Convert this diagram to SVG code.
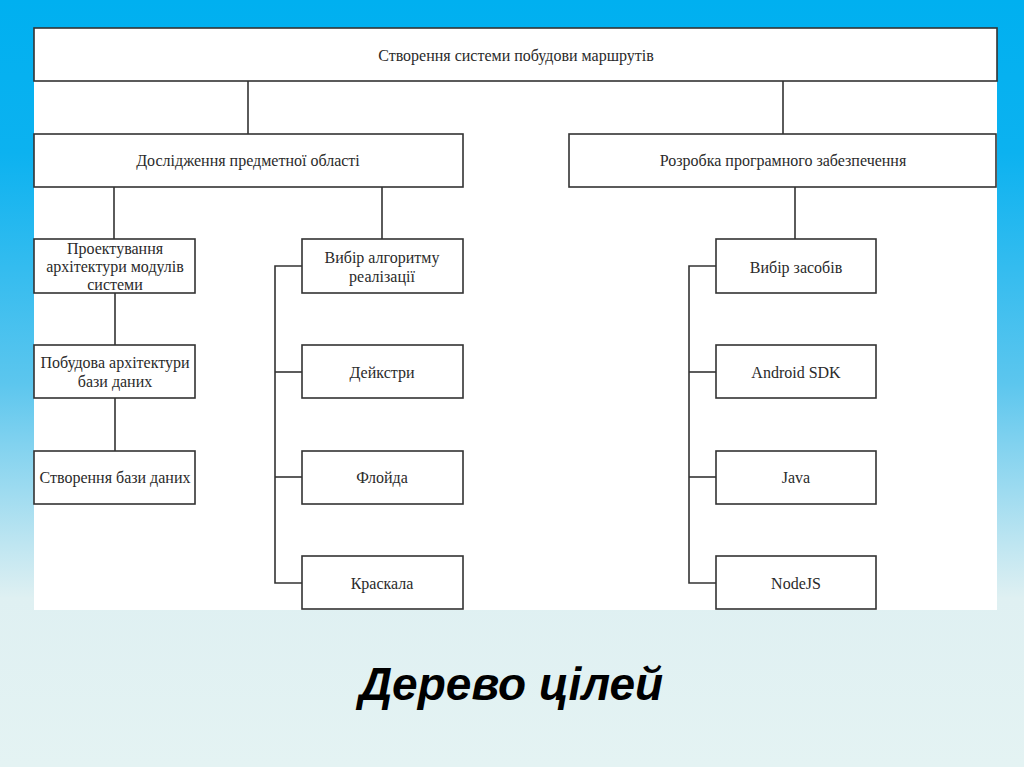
<svg xmlns="http://www.w3.org/2000/svg" width="1024" height="767" viewBox="0 0 1024 767">
<defs>
<linearGradient id="bg" x1="0" y1="0" x2="0" y2="1">
<stop offset="0" stop-color="#00b0f0"/>
<stop offset="0.2" stop-color="#0cb2f0"/>
<stop offset="0.5" stop-color="#5cc6ee"/>
<stop offset="0.78" stop-color="#dff0f2"/>
<stop offset="1" stop-color="#e4f3f3"/>
</linearGradient>
<style>
.box{fill:#fff;stroke:#333;stroke-width:1.6}
.t{font-family:"Liberation Serif",serif;font-size:16px;fill:#2a2a2a;text-anchor:middle}
.c{fill:none;stroke:#333;stroke-width:1.6}
</style>
</defs>
<rect x="0" y="0" width="1024" height="767" fill="url(#bg)"/>
<rect x="34" y="28" width="963" height="582" fill="#fff"/>
<g id="connectors">
<line class="c" x1="248" y1="81" x2="248" y2="134"/>
<line class="c" x1="783" y1="81" x2="783" y2="134"/>
<line class="c" x1="114" y1="187" x2="114" y2="239"/>
<line class="c" x1="382" y1="187" x2="382" y2="239"/>
<line class="c" x1="115" y1="293" x2="115" y2="345"/>
<line class="c" x1="115" y1="398" x2="115" y2="451"/>
<polyline class="c" points="302,266 275,266 275,583 302,583"/>
<line class="c" x1="275" y1="372" x2="302" y2="372"/>
<line class="c" x1="275" y1="477" x2="302" y2="477"/>
<line class="c" x1="795" y1="187" x2="795" y2="239"/>
<polyline class="c" points="716,266 689,266 689,583 716,583"/>
<line class="c" x1="689" y1="372" x2="716" y2="372"/>
<line class="c" x1="689" y1="477" x2="716" y2="477"/>
</g>
<g id="root"><rect class="box" x="34" y="28" width="963" height="53"/><text class="t" x="516" y="61">Створення системи побудови маршрутів</text></g>
<g id="research"><rect class="box" x="34" y="134" width="429" height="53"/><text class="t" x="248" y="166">Дослідження предметної області</text></g>
<g id="software"><rect class="box" x="569" y="134" width="427" height="53"/><text class="t" x="783" y="166">Розробка програмного забезпечення</text></g>
<g id="modules"><rect class="box" x="34" y="239" width="161" height="54"/><text class="t" x="115" y="254">Проектування</text><text class="t" x="115" y="272">архітектури модулів</text><text class="t" x="115" y="290">системи</text></g>
<g id="dbarch"><rect class="box" x="34" y="345" width="161" height="53"/><text class="t" x="115" y="368">Побудова архітектури</text><text class="t" x="115" y="387">бази даних</text></g>
<g id="dbcreate"><rect class="box" x="34" y="451" width="161" height="53"/><text class="t" x="115" y="483">Створення бази даних</text></g>
<g id="algo"><rect class="box" x="302" y="239" width="161" height="54"/><text class="t" x="382" y="263">Вибір алгоритму</text><text class="t" x="382" y="282">реалізації</text></g>
<g id="dijkstra"><rect class="box" x="302" y="345" width="161" height="53"/><text class="t" x="382" y="378">Дейкстри</text></g>
<g id="floyd"><rect class="box" x="302" y="451" width="161" height="53"/><text class="t" x="382" y="483">Флойда</text></g>
<g id="kruskal"><rect class="box" x="302" y="556" width="161" height="53"/><text class="t" x="382" y="589">Краскала</text></g>
<g id="tools"><rect class="box" x="716" y="239" width="160" height="54"/><text class="t" x="796" y="273">Вибір засобів</text></g>
<g id="android"><rect class="box" x="716" y="345" width="160" height="53"/><text class="t" x="796" y="378">Android SDK</text></g>
<g id="java"><rect class="box" x="716" y="451" width="160" height="53"/><text class="t" x="796" y="483">Java</text></g>
<g id="nodejs"><rect class="box" x="716" y="556" width="160" height="53"/><text class="t" x="796" y="589">NodeJS</text></g>
<text x="511" y="700" font-family="Liberation Sans, Arial, sans-serif" font-size="46" font-weight="bold" font-style="italic" fill="#000" text-anchor="middle">Дерево цілей</text>
</svg>
